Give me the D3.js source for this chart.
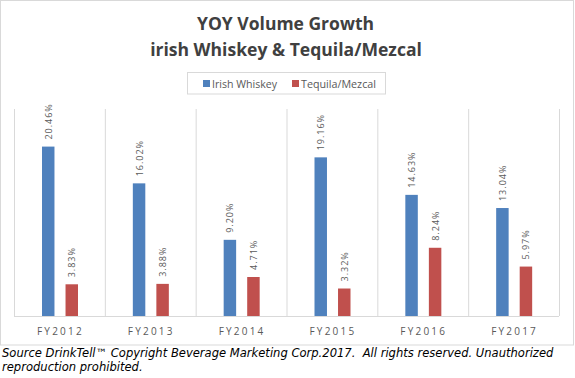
<!DOCTYPE html>
<html><head><meta charset="utf-8">
<script src="https://cdn.jsdelivr.net/npm/d3@7"></script>
<style>body{margin:0;background:#fff}svg{display:block}</style>
</head><body>
<script>
const categories = ["FY2012","FY2013","FY2014","FY2015","FY2016","FY2017"];
const seriesNames = ["Irish Whiskey","Tequila/Mezcal"];
const irishWhiskey = [20.46,16.02,9.20,19.16,14.63,13.04];
const tequilaMezcal = [3.83,3.88,4.71,3.32,8.24,5.97];
const irishLabels = ["20.46%","16.02%","9.20%","19.16%","14.63%","13.04%"];
const tequilaLabels = ["3.83%","3.88%","4.71%","3.32%","8.24%","5.97%"];
const colors = ["#4f81bd","#c0504d"];

const W=575,H=378;
const svg=d3.select("body").append("svg").attr("width",W).attr("height",H);
svg.append("rect").attr("x",0.5).attr("y",0.5).attr("width",573).attr("height",344.5)
  .attr("fill","#fff").attr("stroke","#d9d9d9");

function fit(t,target){
  const w=t.node().getComputedTextLength();
  const fs=parseFloat(t.attr("font-size"));
  t.attr("font-size",(fs*target/w).toFixed(2));
  return t;
}

// Title
const tf="'Open Sans', sans-serif";
fit(svg.append("text").attr("x",285.5).attr("y",30).attr("text-anchor","middle")
  .attr("font-family",tf).attr("font-weight","bold").attr("font-size",18).attr("fill","#404040")
  .text("YOY Volume Growth"),177);
fit(svg.append("text").attr("x",286).attr("y",56).attr("text-anchor","middle")
  .attr("font-family",tf).attr("font-weight","bold").attr("font-size",18).attr("fill","#404040")
  .text("irish Whiskey & Tequila/Mezcal"),272);

// Legend
svg.append("rect").attr("x",187.5).attr("y",72.5).attr("width",198).attr("height",21.5)
  .attr("fill","none").attr("stroke","#d9d9d9");
const legX=[203,292], legTX=[212,301], legW=[65,75];
seriesNames.forEach((n,i)=>{
  svg.append("rect").attr("x",legX[i]).attr("y",80).attr("width",7).attr("height",7).attr("fill",colors[i]);
  fit(svg.append("text").attr("x",legTX[i]).attr("y",87.5).attr("font-family",tf)
    .attr("font-size",11).attr("fill","#595959").text(n),legW[i]);
});

// Scales
const x=d3.scaleBand().domain(categories).range([14,559]).padding(0);
const y=d3.scaleLinear().domain([0,25]).range([316,109]);
const inner=d3.scaleBand().domain(seriesNames).range([28,64]).paddingInner(0.47);

// gridlines
const g=svg.append("g");
const bounds=categories.map(c=>x(c)).concat([x.range()[1]]);
g.selectAll("line.grid").data(bounds).join("line")
  .attr("x1",d=>d+0.5).attr("x2",d=>d+0.5).attr("y1",y.range()[1]).attr("y2",316)
  .attr("stroke","#d9d9d9");

// axis
const ax=svg.append("g").attr("transform","translate(0,316)")
  .call(d3.axisBottom(x).tickSize(0).tickPadding(12));
ax.select(".domain").attr("stroke","#d9d9d9").attr("d","M14,0.5H559");
ax.selectAll("text").attr("font-family",tf).attr("font-size",10).attr("fill","#595959")
  .attr("letter-spacing","2.2px").attr("dx","1px");

// bars
const series=[irishWhiskey,tequilaMezcal];
const labels=[irishLabels,tequilaLabels];
series.forEach((vals,si)=>{
  const bw=inner.bandwidth();
  svg.append("g").selectAll("rect").data(vals).join("rect")
    .attr("x",(d,i)=>x(categories[i])+inner(seriesNames[si]))
    .attr("y",d=>y(d)).attr("width",bw).attr("height",d=>316-y(d))
    .attr("fill",colors[si]);
  svg.append("g").selectAll("text").data(vals).join("text")
    .attr("transform",(d,i)=>{
      const cx=x(categories[i])+inner(seriesNames[si])+bw/2+3.5;
      return `translate(${cx},${y(d)-7}) rotate(-90)`;})
    .attr("font-family",tf).attr("font-size",9).attr("letter-spacing","1px").attr("fill","#595959")
    .text((d,i)=>labels[si][i]);
});

// footer
const ff="'DejaVu Sans', Verdana, sans-serif";
const f1=fit(svg.append("text").attr("x",2).attr("y",357).attr("font-family",ff).attr("font-style","italic")
  .attr("font-size",11).attr("fill","#000")
  .text("Source DrinkTell\u2122 Copyright Beverage Marketing Corp.2017.\u00a0 All rights reserved. Unauthorized"),552);
svg.append("text").attr("x",2).attr("y",371).attr("font-family",ff).attr("font-style","italic")
  .attr("font-size",f1.attr("font-size")).attr("fill","#000").text("reproduction prohibited.");
</script>
</body></html>
